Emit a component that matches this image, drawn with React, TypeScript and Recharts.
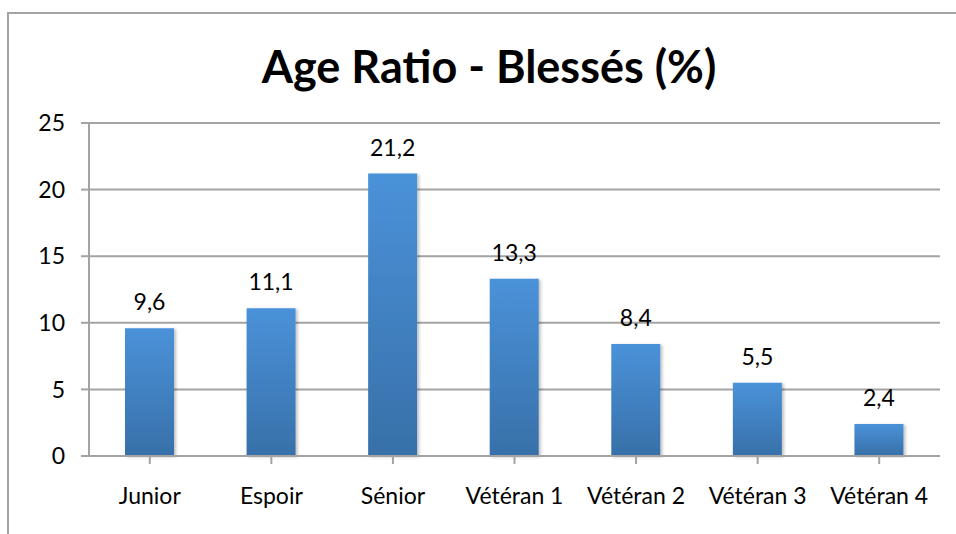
import { BarChart, Bar, XAxis, YAxis, CartesianGrid, LabelList } from 'recharts'

const categories = ['Junior', 'Espoir', 'Sénior', 'Vétéran 1', 'Vétéran 2', 'Vétéran 3', 'Vétéran 4']
const values = [9.6, 11.1, 21.2, 13.3, 8.4, 5.5, 2.4]
const yTicks = [0, 5, 10, 15, 20, 25]

const data = categories.map((name, i) => ({ name, value: values[i] }))

const font = 'Lato, "Open Sans", sans-serif'
const grey = '#a3a3a3'

const fmt = (v: any) => String(v).replace('.', ',')

export default function App() {
  return (
    <div style={{ position: 'absolute', left: 0, top: 0, width: 956, height: 534, overflow: 'hidden', background: '#fff', fontFamily: font }}>
      {/* chart frame, cut off on the right and bottom */}
      <div style={{ position: 'absolute', left: 7, top: 12, width: 1000, height: 600, border: `2px solid ${grey}` }} />
      <div style={{ position: 'absolute', left: 0, width: 978, top: 39, textAlign: 'center', fontSize: 45, fontWeight: 700, color: '#000' }}>
        Age Ratio - Blessés (%)
      </div>
      <BarChart
        width={956}
        height={534}
        data={data}
        margin={{ top: 123, right: 16, left: 0, bottom: 18 }}
        style={{ position: 'absolute', left: 0, top: 0 }}
      >
        <defs>
          <linearGradient id="barFill" x1="0" y1="0" x2="0" y2="1">
            <stop offset="0%" stopColor="#4a92d9" />
            <stop offset="100%" stopColor="#3870a9" />
          </linearGradient>
          <filter id="barShadow" x="-20%" y="-5%" width="140%" height="110%">
            <feDropShadow dx="2" dy="1" stdDeviation="1.5" floodColor="#000" floodOpacity="0.25" />
          </filter>
        </defs>
        <CartesianGrid vertical={false} stroke={grey} strokeWidth={2} />
        <XAxis
          dataKey="name"
          height={60}
          axisLine={{ stroke: grey, strokeWidth: 2 }}
          tickLine={{ stroke: grey, strokeWidth: 2 }}
          tickSize={8}
          interval={0}
          tick={{ fill: '#000', fontSize: 23, fontFamily: font, dy: 22 }}
          scale="band"
        />
        <YAxis
          domain={[0, 25]}
          ticks={yTicks}
          width={89}
          axisLine={{ stroke: grey, strokeWidth: 2 }}
          tickLine={{ stroke: grey, strokeWidth: 2 }}
          tickSize={8}
          tickMargin={16}
          tick={{ fill: '#000', fontSize: 23, fontFamily: font }}
        />
        <Bar dataKey="value" barSize={49} fill="url(#barFill)" filter="url(#barShadow)" isAnimationActive={false}>
          <LabelList dataKey="value" position="top" offset={18} formatter={fmt} style={{ fill: '#000', fontSize: 23, fontFamily: font }} />
        </Bar>
      </BarChart>
    </div>
  )
}
